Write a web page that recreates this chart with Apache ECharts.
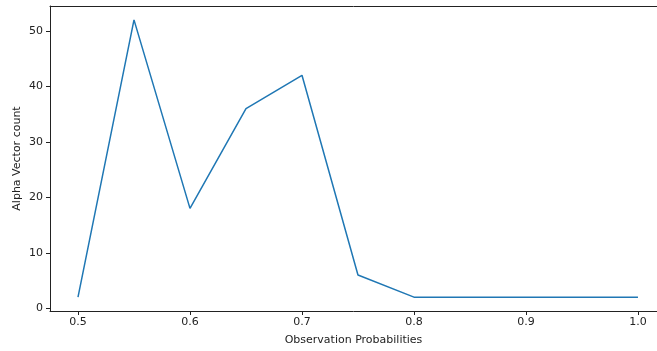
<!DOCTYPE html>
<html>
<head>
<meta charset="utf-8">
<script src="https://cdn.jsdelivr.net/npm/echarts@6/dist/echarts.min.js"></script>
<style>
  html, body { margin: 0; padding: 0; background: #fff; }
  #chart { width: 657px; height: 351px; }
</style>
</head>
<body>
<div id="chart"></div>
<script>
// Observation probability vs. number of alpha vectors
const probabilities = [0.5, 0.55, 0.6, 0.65, 0.7, 0.75, 0.8, 0.85, 0.9, 0.95, 1.0];
const alphaCounts = [2, 52, 18, 36, 42, 6, 2, 2, 2, 2, 2];
const xTicks = [0.5, 0.6, 0.7, 0.8, 0.9, 1.0];
const yTicks = [0, 10, 20, 30, 40, 50];

const font = 'DejaVu Sans';
const ink = '#222';
const chart = echarts.init(document.getElementById('chart'), null, { renderer: 'canvas' });

chart.setOption({
  animation: false,
  grid: { left: 50, right: 0, top: 6, bottom: 39, show: false },
  xAxis: [{
    type: 'value',
    min: 0.475,
    max: 1.017,
    name: 'Observation Probabilities',
    nameLocation: 'middle',
    nameGap: 24,
    nameTextStyle: { fontFamily: font, fontSize: 11, color: ink },
    axisLine: { show: true, onZero: false, lineStyle: { color: ink, width: 1 } },
    axisTick: { show: true, length: 4, customValues: xTicks, lineStyle: { color: ink } },
    axisLabel: {
      customValues: xTicks,
      formatter: v => v.toFixed(1),
      fontFamily: font, fontSize: 11, color: ink, margin: 6
    },
    splitLine: { show: false }
  }, {
    // top spine
    type: 'value',
    position: 'top',
    min: 0.475,
    max: 1.017,
    axisLine: { show: true, onZero: false, lineStyle: { color: ink, width: 1 } },
    axisTick: { show: false },
    axisLabel: { show: false },
    splitLine: { show: false }
  }],
  yAxis: {
    type: 'value',
    min: -0.5,
    max: 54.5,
    name: 'Alpha Vector count',
    nameLocation: 'middle',
    nameGap: 27,
    nameMoveOverlap: false,
    nameTextStyle: { fontFamily: font, fontSize: 11, color: ink },
    axisLine: { show: true, onZero: false, lineStyle: { color: ink, width: 1 } },
    axisTick: { show: true, length: 4, customValues: yTicks, lineStyle: { color: ink } },
    axisLabel: {
      customValues: yTicks,
      fontFamily: font, fontSize: 11, color: ink, margin: 7
    },
    splitLine: { show: false }
  },
  series: [{
    type: 'line',
    xAxisIndex: 0,
    data: probabilities.map((p, i) => [p, alphaCounts[i]]),
    showSymbol: false,
    lineStyle: { color: '#1f77b4', width: 1.5 },
    itemStyle: { color: '#1f77b4' }
  }]
});
</script>
</body>
</html>
